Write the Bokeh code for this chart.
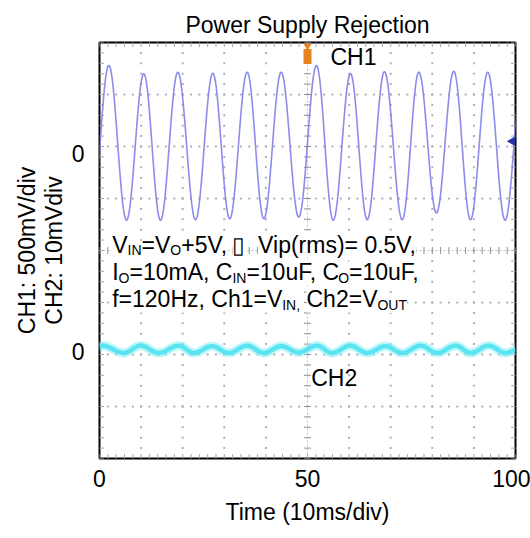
import math
import numpy as np
from bokeh.plotting import figure
from bokeh.models import Label, FixedTicker, Range1d, LinearAxis
from bokeh.embed import file_html
from bokeh.resources import INLINE

FONT = "Liberation Sans"

# ---- data (x: time units 0-100, y: divisions) ----
# CH1 extrema (alternating trough / peak), time and level in divisions
ch1_ext_t = [-1.93, 2.24, 6.49, 10.65, 14.66, 18.83, 23.08, 27.24, 31.3, 35.5, 39.5, 43.67, 47.9,
             52.16, 56.18, 60.34, 64.35, 68.5, 72.77, 76.76, 81.0, 85.17, 89.18, 93.34, 97.5, 101.7]
ch1_ext_v = [0.58, 3.56, 0.58, 3.40, 0.58, 3.43, 0.59, 3.41, 0.61, 3.43, 0.61, 3.43, 0.64,
             3.56, 0.58, 3.40, 0.59, 3.44, 0.59, 3.43, 0.72, 3.45, 0.59, 3.43, 0.58, 3.43]
# CH2 ripple extrema
ch2_ext_t = [0.0, 0.65, 5.84, 9.86, 14.25, 19.06, 22.66, 27.1, 31.07, 35.5, 39.5, 43.7, 47.9,
             52.3, 55.9, 60.3, 64.3, 68.75, 72.8, 77.2, 81.2, 85.6, 89.2, 93.6, 97.6, 100.0]
ch2_ext_v = [-1.86, -1.83, -1.97, -1.83, -1.97, -1.83, -1.97, -1.84, -1.97, -1.83, -1.97, -1.84, -1.96,
             -1.83, -1.97, -1.83, -1.97, -1.84, -1.97, -1.83, -1.97, -1.83, -1.97, -1.83, -1.97, -1.92]
trigger_t = [50]
trigger_v = [3.93]
trigger_body_v = [3.73]
ch1_ref_t = [99.3]
ch1_ref_v = [2.1]

x_ticks = [0, 50, 100]
y_ticks = [1.875, -1.95]
y_tick_labels = ["0", "0"]
x_div = [0, 10, 20, 30, 40, 50, 60, 70, 80, 90, 100]
y_div = [-4, -3, -2, -1, 0, 1, 2, 3, 4]

title_text = "Power Supply Rejection"
x_label = "Time (10ms/div)"
y_label_lines = ["CH1: 500mV/div", "CH2: 10mVdiv"]

note_lines = [
    [("V", False), ("IN", True), ("=V", False), ("O", True), ("+5V, ", False), ("\u25af", False), ("  Vip(rms)= 0.5V,", False)],
    [("I", False), ("O", True), ("=10mA, C", False), ("IN", True), ("=10uF, C", False), ("O", True), ("=10uF,", False)],
    [("f=120Hz, Ch1=V", False), ("IN,", True), (" Ch2=V", False), ("OUT", True)],
]


def cosine_path(ts, vs, n=24):
    xs, ys = [], []
    for i in range(len(ts) - 1):
        s = np.linspace(0, 1, n, endpoint=False)
        xs.extend(ts[i] + s * (ts[i + 1] - ts[i]))
        ys.extend(vs[i] + (vs[i + 1] - vs[i]) * (1 - np.cos(np.pi * s)) / 2)
    xs.append(ts[-1])
    ys.append(vs[-1])
    return xs, ys


W = {' ': 278, '(': 333, ')': 333, '+': 584, ',': 278, '.': 278, '/': 278, ':': 278, '=': 584,
     'A': 667, 'C': 722, 'F': 611, 'H': 722, 'I': 278, 'N': 722, 'O': 778, 'T': 611, 'U': 722, 'V': 667,
     'a': 556, 'c': 500, 'd': 556, 'e': 556, 'f': 278, 'h': 556, 'i': 222, 'm': 833, 'p': 556,
     'r': 333, 's': 500, 'u': 556, 'v': 500, 'z': 500, '\u25af': 560}
KERN = {("F", ","): -150, ("V", ","): -135}


def text_width(t, fs):
    w = sum(W.get(c, 556) for c in t)
    w += sum(KERN.get((a, b), 0) for a, b in zip(t, t[1:]))
    return w * fs / 1000.0


p = figure(width=530, height=538, x_range=Range1d(0, 100), y_range=Range1d(-4, 4),
           output_backend="svg", toolbar_location=None,
           min_border_left=99, min_border_right=15, min_border_top=42, min_border_bottom=80)
p.background_fill_color = "white"
p.border_fill_color = "white"
p.outline_line_color = "black"
p.outline_line_width = 2
p.grid.visible = False

p.title.text = title_text
p.title.text_font = FONT
p.title.text_font_size = "23px"
p.title.text_font_style = "normal"
p.title.text_color = "black"
p.title.align = "center"
p.title.standoff = 10

for ax in (p.xaxis, p.yaxis):
    ax.axis_line_color = None
    ax.major_tick_line_color = None
    ax.minor_tick_line_color = None
    ax.major_tick_out = 0
    ax.major_label_text_font = FONT
    ax.major_label_text_font_size = "23px"
    ax.major_label_text_color = "black"

p.xaxis.ticker = FixedTicker(ticks=x_ticks)
p.xaxis.major_label_standoff = 11
p.xaxis.axis_label = x_label
p.xaxis.axis_label_text_font = FONT
p.xaxis.axis_label_text_font_size = "23px"
p.xaxis.axis_label_text_font_style = "normal"
p.xaxis.axis_label_text_color = "black"
p.xaxis.axis_label_standoff = 9

p.yaxis.ticker = FixedTicker(ticks=y_ticks)
p.yaxis.major_label_overrides = {t: l for t, l in zip(y_ticks, y_tick_labels)}
p.yaxis.major_label_standoff = 15

# two stacked y-axis titles (inner: CH2, outer: CH1)
for text, standoff in ((y_label_lines[1], 2), (y_label_lines[0], -2)):
    extra = LinearAxis(ticker=FixedTicker(ticks=[]), axis_label=text,
                       axis_label_text_font=FONT, axis_label_text_font_size="23px",
                       axis_label_text_font_style="normal", axis_label_text_color="black",
                       axis_label_standoff=standoff, axis_line_color=None,
                       major_tick_line_color=None, minor_tick_line_color=None,
                       major_tick_out=0, major_label_standoff=0)
    p.add_layout(extra, "left")

# ---- graticule ----
minor_x = np.arange(0, 100.001, 2.0)
minor_y = np.arange(-4, 4.0001, 0.2)
inner_x = [x for x in x_div if 0 < x < 100 and x != 50]
inner_y = [y for y in y_div if -4 < y < 4 and y != 0]
dx, dy = [], []
for gx in inner_x:
    for yy in minor_y[1:-1]:
        dx.append(gx); dy.append(yy)
for gy in inner_y:
    for xx in minor_x[1:-1]:
        dx.append(xx); dy.append(gy)
p.scatter(dx, dy, marker="square", size=2, color="#b0b0b0", line_color=None)

# centre cross with ticks
p.line([50, 50], [-4, 4], line_color="#c0c0c0", line_width=1, line_dash="2 2")
p.line([0, 100], [0, 0], line_color="#c0c0c0", line_width=1, line_dash="2 2")
p.scatter([50] * len(minor_y), list(minor_y), marker="dash", size=7, line_color="#909090", line_width=1)
p.scatter(list(minor_x), [0] * len(minor_x), marker="dash", size=7, angle=math.pi / 2,
          line_color="#909090", line_width=1)
# frame edge ticks
p.scatter(list(minor_x), [-4] * len(minor_x), marker="dash", size=9, angle=math.pi / 2, line_color="#a8a8a8")
p.scatter(list(minor_x), [4] * len(minor_x), marker="dash", size=9, angle=math.pi / 2, line_color="#a8a8a8")
p.scatter([0] * len(minor_y), list(minor_y), marker="dash", size=9, line_color="#a8a8a8")
p.scatter([100] * len(minor_y), list(minor_y), marker="dash", size=9, line_color="#a8a8a8")

# ---- traces ----
x1, y1 = cosine_path(ch1_ext_t, ch1_ext_v)
p.line(x1, y1, line_color="#8080ea", line_width=1.6, line_alpha=0.9)
x2, y2 = cosine_path(ch2_ext_t, ch2_ext_v)
p.line(x2, y2, line_color="#8aeef6", line_width=9, line_alpha=0.55)
p.line(x2, y2, line_color="#4fe2f0", line_width=4.5, line_alpha=0.9)

# markers
p.scatter(trigger_t, trigger_v, marker="inverted_triangle", size=8, color="#e8821e", line_color=None)
p.rect(trigger_t, trigger_body_v, width=8, height=15, width_units="screen", height_units="screen",
       fill_color="#e8821e", line_color=None)
p.scatter(ch1_ref_t, ch1_ref_v, marker="triangle", angle=math.pi / 2, size=10, color="#2535a8", line_color=None)

# ---- labels ----
def lab(x, y, text, **kw):
    opts = dict(text_font=FONT, text_font_size="23px", text_color="black")
    opts.update(kw)
    p.add_layout(Label(x=x, y=y, text=text, **opts))

lab(55.53, 3.72, "CH1", text_baseline="middle")
lab(50.89, -2.46, "CH2", text_baseline="middle")

MAIN, SUB = 23, 14
SUB_SHIFT = -5.5
line_y = [0.115, -0.417, -0.942]
for segs, ly in zip(note_lines, line_y):
    off = 0.0
    for txt, sub in segs:
        fs = SUB if sub else MAIN
        core = txt.strip(" ")
        lead = len(txt) - len(txt.lstrip(" "))
        trail = len(txt) - len(txt.rstrip(" "))
        off += text_width(" " * lead, fs)
        p.add_layout(Label(x=3.05, y=ly, x_offset=off, y_offset=SUB_SHIFT if sub else 0, text=core,
                           text_font=FONT, text_font_size=f"{fs}px", text_color="black",
                           text_baseline="middle", background_fill_color="white"))
        off += text_width(core, fs) + text_width(" " * trail, fs)

open("out.html", "w").write(file_html(p, INLINE))
